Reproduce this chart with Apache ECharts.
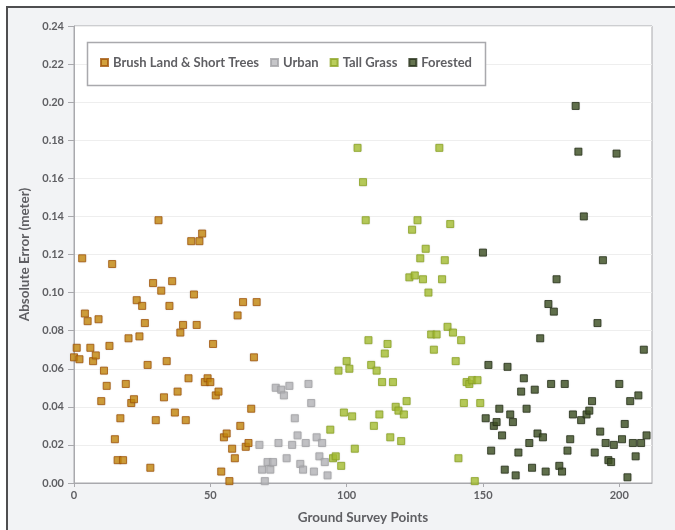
<!DOCTYPE html>
<html>
<head>
<meta charset="utf-8">
<script src="https://cdn.jsdelivr.net/npm/echarts@6/dist/echarts.min.js"></script>
<style>
  html, body { margin: 0; padding: 0; background: #ffffff; }
  #chart { width: 675px; height: 530px; }
</style>
</head>
<body>
<div id="chart"></div>
<script>
// Absolute error per ground survey point, grouped by land cover class.
const brushPoints = [0,1,2,3,4,5,6,7,8,9,10,11,12,13,14,15,16,17,18,19,20,21,22,23,24,25,26,27,28,29,30,31,32,33,34,35,36,37,38,39,40,41,42,43,44,45,46,47,48,49,50,51,52,53,54,55,56,57,58,59,60,61,62,63,64,65,66,67];
const brushError = [0.066,0.071,0.065,0.118,0.089,0.085,0.071,0.064,0.067,0.086,0.043,0.059,0.051,0.072,0.115,0.023,0.012,0.034,0.012,0.052,0.076,0.042,0.044,0.096,0.077,0.093,0.084,0.062,0.008,0.105,0.033,0.138,0.101,0.045,0.064,0.093,0.106,0.037,0.048,0.079,0.083,0.033,0.055,0.127,0.099,0.083,0.127,0.131,0.053,0.055,0.053,0.073,0.046,0.048,0.006,0.024,0.026,0.001,0.018,0.013,0.088,0.030,0.095,0.019,0.021,0.039,0.066,0.095];

const urbanPoints = [68,69,70,71,72,73,74,75,76,77,78,79,80,81,82,83,84,85,86,87,88,89,90,91,92,93];
const urbanError = [0.020,0.007,0.001,0.011,0.007,0.011,0.050,0.021,0.049,0.046,0.013,0.051,0.020,0.034,0.025,0.010,0.007,0.021,0.052,0.042,0.006,0.024,0.014,0.021,0.011,0.004];

const grassPoints = [94,95,96,97,98,99,100,101,102,103,104,106,107,108,109,110,111,112,113,114,115,116,117,118,119,120,121,122,123,124,125,126,127,128,129,130,131,132,133,134,135,136,137,138,139,140,141,142,143,144,145,146,147,148,149];
const grassError = [0.028,0.013,0.014,0.059,0.009,0.037,0.064,0.060,0.035,0.018,0.176,0.158,0.138,0.075,0.062,0.030,0.059,0.036,0.053,0.068,0.073,0.024,0.053,0.040,0.038,0.022,0.036,0.043,0.108,0.133,0.109,0.138,0.118,0.107,0.123,0.100,0.078,0.070,0.078,0.176,0.107,0.117,0.082,0.136,0.079,0.064,0.013,0.075,0.042,0.053,0.052,0.054,0.001,0.054,0.042];

const forestPoints = [150,151,152,153,154,155,156,157,158,159,160,161,162,163,164,165,166,167,168,169,170,171,172,173,174,175,176,177,178,179,180,181,182,183,184,185,186,187,188,189,190,191,192,193,194,195,196,197,198,199,200,201,202,203,204,205,206,207,208,209,210];
const forestError = [0.121,0.034,0.062,0.017,0.030,0.032,0.039,0.025,0.007,0.061,0.036,0.032,0.004,0.016,0.048,0.055,0.039,0.021,0.008,0.049,0.026,0.076,0.024,0.006,0.094,0.052,0.090,0.107,0.009,0.006,0.052,0.017,0.023,0.036,0.198,0.174,0.033,0.140,0.036,0.038,0.043,0.016,0.084,0.027,0.117,0.021,0.012,0.011,0.020,0.173,0.052,0.023,0.031,0.003,0.043,0.021,0.014,0.046,0.021,0.070,0.025];

const seriesNames = ['Brush Land & Short Trees', 'Urban', 'Tall Grass', 'Forested'];
const xTicks = [0, 50, 100, 150, 200];

function pairs(xs, ys) {
  return xs.map((x, i) => [x, ys[i]]);
}

const textGray = '#5f5f63';
const axisGray = '#a9a9ad';
const font = 'Lato, "Open Sans", sans-serif';

function scatter(name, xs, ys, fill, border) {
  return {
    name: name,
    type: 'scatter',
    symbol: 'rect',
    symbolSize: 7,
    data: pairs(xs, ys),
    itemStyle: {
      color: fill,
      borderColor: border,
      borderWidth: 1,
      shadowBlur: 2,
      shadowColor: 'rgba(0,0,0,0.12)'
    }
  };
}

const chart = echarts.init(document.getElementById('chart'), null, { renderer: 'canvas' });

chart.setOption({
  backgroundColor: '#ffffff',
  animation: false,
  graphic: [
    {
      type: 'rect',
      silent: true,
      z: -10,
      shape: { x: 7, y: 7, width: 700, height: 560 },
      style: { fill: '#f2f3f5', stroke: '#4e4e50', lineWidth: 2 }
    },
    {
      type: 'rect',
      silent: true,
      z: 3,
      shape: { x: 87.5, y: 42.5, width: 398, height: 43 },
      style: { fill: '#ffffff', stroke: '#a9a9ad', lineWidth: 1.5 }
    }
  ],
  grid: {
    left: 74,
    right: 23,
    top: 26,
    bottom: 45,
    show: true,
    backgroundColor: '#ffffff',
    borderColor: axisGray,
    borderWidth: 1
  },
  legend: {
    data: seriesNames,
    left: 100,
    top: 56,
    itemWidth: 7,
    itemHeight: 7,
    itemGap: 11,
    padding: 0,
    textStyle: { color: textGray, fontSize: 13, fontWeight: 'bold', fontFamily: font }
  },
  xAxis: {
    type: 'value',
    min: 0,
    max: 212,
    interval: 50,
    name: 'Ground Survey Points',
    nameLocation: 'middle',
    nameGap: 28,
    nameTextStyle: { color: textGray, fontSize: 13.5, fontWeight: 'bold', fontFamily: font },
    axisLine: { show: true, lineStyle: { color: axisGray, width: 1 } },
    axisTick: { show: true, length: 4, lineStyle: { color: axisGray }, customValues: xTicks },
    axisLabel: { color: textGray, fontSize: 11, fontWeight: 'bold', fontFamily: font, margin: 7, customValues: xTicks },
    splitLine: { show: false }
  },
  yAxis: {
    type: 'value',
    min: 0,
    max: 0.24,
    interval: 0.02,
    name: 'Absolute Error (meter)',
    nameLocation: 'middle',
    nameGap: 33,
    nameTextStyle: { color: textGray, fontSize: 13.5, fontWeight: 'bold', fontFamily: font },
    axisLine: { show: true, lineStyle: { color: axisGray, width: 1 } },
    axisTick: { show: true, length: 6, lineStyle: { color: axisGray } },
    axisLabel: {
      color: textGray, fontSize: 11, fontWeight: 'bold', fontFamily: font, margin: 10,
      formatter: v => v.toFixed(2)
    },
    splitLine: { show: true, lineStyle: { color: '#eeeeee', width: 1 } }
  },
  series: [
    scatter(seriesNames[0], brushPoints, brushError, '#c7890e', '#a3560b'),
    scatter(seriesNames[1], urbanPoints, urbanError, '#b8b8bc', '#a2a2a6'),
    scatter(seriesNames[2], grassPoints, grassError, '#a9c234', '#8ca424'),
    scatter(seriesNames[3], forestPoints, forestError, '#3f5124', '#27311a')
  ]
});
</script>
</body>
</html>
